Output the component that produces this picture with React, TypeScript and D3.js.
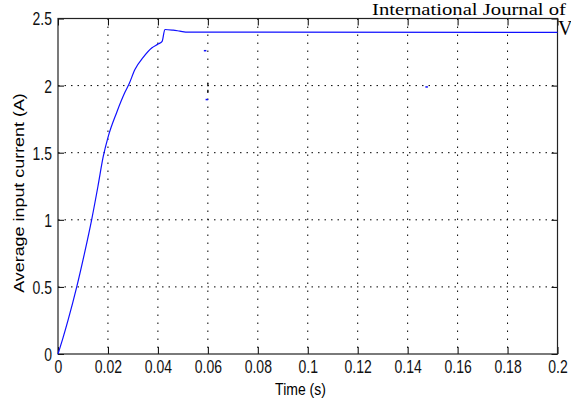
import * as d3 from 'd3'
import { useEffect, useRef } from 'react'

// time (s) and average input current (A)
const timeS = [0, 0.002, 0.004, 0.0075, 0.0106, 0.01347, 0.016, 0.0181, 0.0201, 0.0235, 0.0268, 0.0284,
  0.0308, 0.0341, 0.0375, 0.0401, 0.0417, 0.0428, 0.0461, 0.0488, 0.052, 0.2]
const currentA = [0, 0.12, 0.25, 0.5, 0.75, 1.0, 1.25, 1.47, 1.62, 1.8, 1.95, 2.01,
  2.12, 2.21, 2.28, 2.31, 2.33, 2.418, 2.413, 2.406, 2.398, 2.397]

// stray plotting specks
const speckT = [0.0588, 0.0595, 0.1475]
const speckV = [2.26, 1.896, 1.99]
// dark vertical bits at t = 0.06
const dashFrom = [2.02, 1.97]
const dashTo = [1.995, 1.945]

const xTicks = [0, 0.02, 0.04, 0.06, 0.08, 0.1, 0.12, 0.14, 0.16, 0.18, 0.2]
const yTicks = [0, 0.5, 1, 1.5, 2, 2.5]

const W = 571, H = 399
const left = 58, right = 557.5, top = 18.5, bottom = 354
const SY = 1.28 // the figure is stretched vertically
const FONT = '"Liberation Sans", Arial, sans-serif'

export default function App() {
  const svgRef = useRef<SVGSVGElement>(null)

  useEffect(() => {
    const svg = d3.select(svgRef.current)
    svg.selectAll('*').remove()

    const x = d3.scaleLinear().domain([0, 0.2]).range([left, right])
    const y = d3.scaleLinear().domain([0, 2.5]).range([bottom, top])
    const fmt = (d: any) => String(+(+d).toFixed(2))

    svg.append('rect').attr('width', W).attr('height', H).attr('fill', '#fff')

    // grid
    svg.append('g')
      .selectAll('line')
      .data(xTicks.slice(1, -1))
      .join('line')
      .attr('x1', d => x(d)).attr('x2', d => x(d))
      .attr('y1', top).attr('y2', bottom)
      .attr('stroke', '#000').attr('stroke-width', 1)
      .attr('stroke-dasharray', '1.5,6.5')
    svg.append('g')
      .selectAll('line')
      .data(yTicks.slice(1, -1))
      .join('line')
      .attr('x1', left).attr('x2', right)
      .attr('y1', d => y(d)).attr('y2', d => y(d))
      .attr('stroke', '#000').attr('stroke-width', 1)
      .attr('stroke-dasharray', '1.5,5')

    // axes with inward ticks
    const gx = svg.append('g')
      .attr('transform', `translate(0,${bottom})`)
      .call(d3.axisBottom(x).tickValues(xTicks).tickSizeInner(-7).tickSizeOuter(0).tickFormat(fmt))
    gx.select('.domain').remove()
    gx.selectAll('text')
      .attr('y', 0).attr('dy', null)
      .attr('transform', `translate(0,${18.7}) scale(1,${SY})`)
      .style('font', `14px ${FONT}`).attr('fill', '#111')

    const gy = svg.append('g')
      .attr('transform', `translate(${left},0)`)
      .call(d3.axisLeft(y).tickValues(yTicks).tickSizeInner(-6).tickSizeOuter(0).tickFormat(fmt))
    gy.select('.domain').remove()
    gy.selectAll('text')
      .attr('x', 0).attr('dy', null)
      .attr('transform', `translate(-6,${6.4}) scale(1,${SY})`)
      .style('font', `14px ${FONT}`).attr('fill', '#111')

    const gt = svg.append('g')
      .attr('transform', `translate(0,${top})`)
      .call(d3.axisTop(x).tickValues(xTicks).tickSizeInner(-7).tickSizeOuter(0).tickFormat(() => ''))
    gt.select('.domain').remove()

    const gr = svg.append('g')
      .attr('transform', `translate(${right},0)`)
      .call(d3.axisRight(y).tickValues(yTicks).tickSizeInner(-6).tickSizeOuter(0).tickFormat(() => ''))
    gr.select('.domain').remove()

    svg.selectAll('.tick line').attr('stroke', '#000')

    // box
    svg.append('rect')
      .attr('x', left).attr('y', top)
      .attr('width', right - left).attr('height', bottom - top)
      .attr('fill', 'none').attr('stroke', '#222').attr('stroke-width', 1.2)

    // curve
    const pts = timeS.map((t, i) => [t, currentA[i]] as [number, number])
    svg.append('path')
      .datum(pts)
      .attr('d', d3.line<[number, number]>().x(d => x(d[0])).y(d => y(d[1])).curve(d3.curveMonotoneX))
      .attr('fill', 'none').attr('stroke', '#1010ff').attr('stroke-width', 1.2)

    svg.append('g').selectAll('rect')
      .data(speckT)
      .join('rect')
      .attr('x', d => x(d) - 1).attr('y', (d, i) => y(speckV[i]) - 0.75)
      .attr('width', 2.5).attr('height', 1.5).attr('fill', '#1010ff')

    svg.append('g').selectAll('line')
      .data(dashFrom)
      .join('line')
      .attr('x1', x(0.06)).attr('x2', x(0.06))
      .attr('y1', d => y(d)).attr('y2', (d, i) => y(dashTo[i]))
      .attr('stroke', '#111').attr('stroke-width', 1.3)

    // axis labels
    svg.append('text')
      .attr('transform', `translate(300.5,395) scale(1,1.2)`)
      .attr('text-anchor', 'middle')
      .style('font', `14px ${FONT}`)
      .text('Time (s)')
    svg.append('text')
      .attr('transform', `translate(23.5,193) rotate(-90) scale(${SY},1)`)
      .attr('text-anchor', 'middle')
      .style('font', `14px ${FONT}`)
      .text('Average input current (A)')

    // page header bits around the figure
    svg.append('text')
      .attr('x', 372).attr('y', 15)
      .attr('textLength', 194).attr('lengthAdjust', 'spacingAndGlyphs')
      .style('font', '17px "Liberation Serif", "Times New Roman", serif')
      .text('International Journal of')
    svg.append('text')
      .attr('x', 558).attr('y', 35)
      .style('font', '20px "Liberation Serif", "Times New Roman", serif')
      .text('V')
  }, [])

  return <svg ref={svgRef} width={W} height={H} style={{ position: 'absolute', left: 0, top: 0 }} />
}
